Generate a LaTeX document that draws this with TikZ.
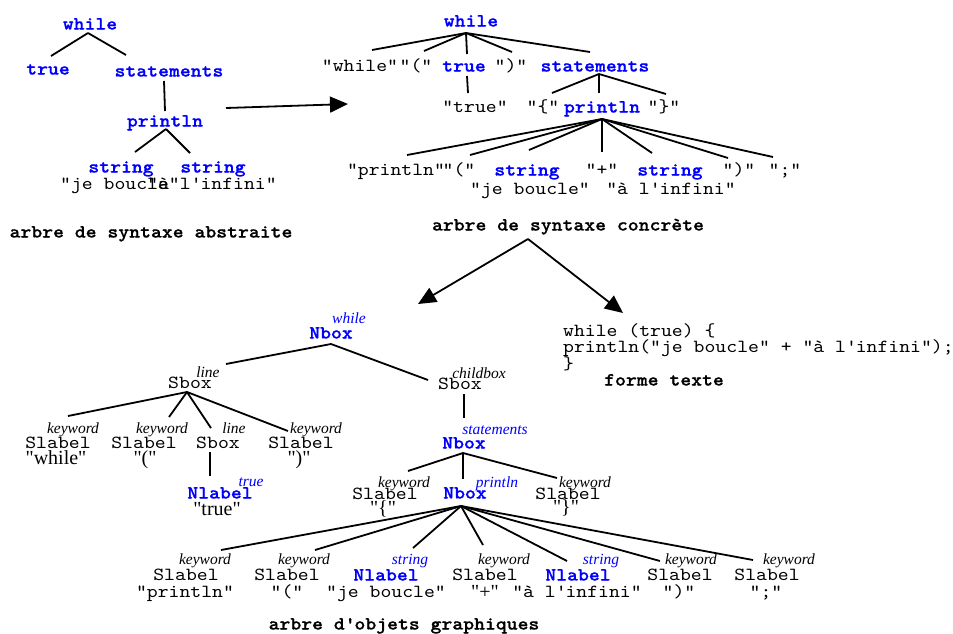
\documentclass[tikz,border=0pt]{standalone}
\usepackage{fontspec}
\usetikzlibrary{calc,arrows.meta}
\newfontfamily\tms{Liberation Serif}
% typewriter face, widened so that its glyphs keep a Courier-like pitch
\newfontfamily\cour[Extension=.otf, BoldFont=lmmonolt10-bold, BoldFeatures={FakeBold=0.8}, FakeStretch=1.12]{lmmono10-regular}
\begin{document}
\begin{tikzpicture}[x=1pt,y=-1pt,
  mono/.style={font=\fontsize{18.5}{18.5}\selectfont\cour, inner sep=0pt, text height=11pt, text depth=0pt},
  kw/.style={mono, font=\fontsize{18.5}{18.5}\selectfont\cour\bfseries, text=blue},
  captext/.style={mono, font=\fontsize{18.5}{18.5}\selectfont\cour\bfseries},
  tag/.style={font=\fontsize{15.5}{16}\selectfont\tms\itshape, inner sep=0pt, text height=10pt, text depth=0pt},
  btag/.style={tag, text=blue},
  ser/.style={font=\fontsize{20}{20}\selectfont\tms, inner sep=0pt, text height=13pt, text depth=0pt},
  edge/.style={line width=1.8pt},
  bigarrow/.style={line width=1.8pt, -{Triangle[length=18pt,width=16pt]}}]
\useasboundingbox[fill=white] (0,0) rectangle (953,633);

% ---------- abstract syntax tree ----------
\node[kw] (a_while) at (90,24) {while};
\node[kw] (a_true) at (48,69) {true};
\node[kw] (a_stmts) at (169,71) {statements};
\node[kw] (a_println) at (165,121) {println};
\node[kw] (a_str1) at (121,167) {string};
\node[kw] (a_str2) at (213,167) {string};
\node[mono] (a_v1) at (120,184) {"je boucle"};
\node[mono] (a_v2) at (212,184) {"à l\textquotesingle infini"};
\node[captext] (a_cap) at (151,232) {arbre de syntaxe abstraite};

\draw[edge] ($(a_while)+(-2,9)$) -- ($(a_true)+(3,-13)$);
\draw[edge] ($(a_while)+(-2,9)$) -- ($(a_stmts)+(-43,-16)$);
\draw[edge] ($(a_stmts)+(-5,10)$) -- ($(a_println)+(0,-10)$);
\draw[edge] ($(a_println)+(1,8)$) -- ($(a_str1)+(14,-15)$);
\draw[edge] ($(a_println)+(1,8)$) -- ($(a_str2)+(-23,-14)$);

\coordinate (ast_out) at (226,108);
\coordinate (cst_in) at (348,104);
\draw[bigarrow] (ast_out) -- (cst_in);

% ---------- concrete syntax tree ----------
\node[kw] (c_while) at (471,21) {while};
\node[mono] (c_kwh) at (360,66) {"while"};
\node[mono] (c_lp) at (416,66) {"("};
\node[kw] (c_true) at (464,66) {true};
\node[mono] (c_rp) at (511,66) {")"};
\node[kw] (c_stmts) at (595,66) {statements};
\node[mono] (c_truelit) at (475,107) {"true"};
\node[mono] (c_lb) at (543,107) {"\{"};
\node[kw] (c_println) at (602,107) {println};
\node[mono] (c_rb) at (664,107) {"\}"};
\node[mono] (c_pl) at (396,170) {"println"};
\node[mono] (c_lp2) at (459,170) {"("};
\node[kw] (c_s1) at (527,170) {string};
\node[mono] (c_plus) at (602,170) {"+"};
\node[kw] (c_s2) at (670,170) {string};
\node[mono] (c_rp2) at (739,170) {")"};
\node[mono] (c_semi) at (785,170) {";"};
\node[mono] (c_v1) at (530,189) {"je boucle"};
\node[mono] (c_v2) at (671,189) {"à l\textquotesingle infini"};
\node[captext] (c_cap) at (568,225) {arbre de syntaxe concrète};

\draw[edge] ($(c_while)+(-5,12)$) -- ($(c_kwh)+(12,-16)$);
\draw[edge] ($(c_while)+(-5,12)$) -- ($(c_lp)+(8,-15)$);
\draw[edge] ($(c_while)+(-5,12)$) -- ($(c_true)+(3,-12)$);
\draw[edge] ($(c_while)+(-5,12)$) -- ($(c_rp)+(1,-14)$);
\draw[edge] ($(c_while)+(-5,12)$) -- ($(c_stmts)+(-5,-14)$);
\draw[edge] ($(c_true)+(3,10)$) -- ($(c_truelit)+(-7,-14)$);
\draw[edge] ($(c_stmts)+(4,8)$) -- ($(c_lb)+(9,-14)$);
\draw[edge] ($(c_stmts)+(4,8)$) -- ($(c_println)+(-3,-14)$);
\draw[edge] ($(c_stmts)+(4,8)$) -- ($(c_rb)+(2,-13)$);
\draw[edge] ($(c_println)+(0,12)$) -- ($(c_pl)+(11,-15)$);
\draw[edge] ($(c_println)+(0,12)$) -- ($(c_lp2)+(11,-15)$);
\draw[edge] ($(c_println)+(0,12)$) -- ($(c_s1)+(2,-20)$);
\draw[edge] ($(c_println)+(0,12)$) -- ($(c_plus)+(0,-18)$);
\draw[edge] ($(c_println)+(0,12)$) -- ($(c_s2)+(-18,-17)$);
\draw[edge] ($(c_println)+(0,12)$) -- ($(c_rp2)+(-11,-12)$);
\draw[edge] ($(c_println)+(0,12)$) -- ($(c_semi)+(-12,-13)$);

% ---------- text form ----------
\node[mono, anchor=west] (code1) at (563,331) {while (true) \{};
\node[mono, anchor=west] (code2) at (563,347) {println("je boucle" + "à l\textquotesingle infini");};
\node[mono, anchor=west] (code3) at (563,364) {\}};
\node[captext] (code_cap) at (664,380) {forme texte};

% ---------- graphical object tree ----------
\node[btag] (g_rtag) at (349,318) {while};
\node[kw] (g_root) at (331,333) {Nbox};
\node[tag] (g_ltag) at (208,372) {line};
\node[mono] (g_sb1) at (190,383) {Sbox};
\node[tag] (g_ctag) at (479,373) {childbox};
\node[mono] (g_sb2) at (460,384) {Sbox};

\node[tag] (g_t1) at (73,428) {keyword};
\node[mono] (g_y1) at (58,443) {Slabel};
\node[ser] (g_v1) at (56,458) {"while"};
\node[tag] (g_t2) at (162,428) {keyword};
\node[mono] (g_y2) at (144,443) {Slabel};
\node[ser] (g_v2) at (145,458) {"("};
\node[tag] (g_t3) at (234,428) {line};
\node[mono] (g_y3) at (218,443) {Sbox};
\node[tag] (g_t4) at (316,428) {keyword};
\node[mono] (g_y4) at (301,443) {Slabel};
\node[ser] (g_v4) at (299,458) {")"};
\node[btag] (g_t5) at (251,481) {true};
\node[kw] (g_y5) at (220,493) {Nlabel};
\node[ser] (g_v5) at (217,509) {"true"};

\node[btag] (g_t6) at (495,429) {statements};
\node[kw] (g_y6) at (464,443) {Nbox};
\node[tag] (g_t7) at (404,482) {keyword};
\node[mono] (g_y7) at (385,494) {Slabel};
\node[ser] (g_v7) at (383,508) {"\{"};
\node[btag] (g_t8) at (497,482) {println};
\node[kw] (g_y8) at (465,493) {Nbox};
\node[tag] (g_t9) at (585,482) {keyword};
\node[mono] (g_y9) at (568,494) {Slabel};
\node[ser] (g_v9) at (566,507) {"\}"};

\node[tag] (g_b1t) at (205,559) {keyword};
\node[mono] (g_b1y) at (186,575) {Slabel};
\node[mono] (g_b1v) at (185,592) {"println"};
\node[tag] (g_b2t) at (304,559) {keyword};
\node[mono] (g_b2y) at (287,575) {Slabel};
\node[mono] (g_b2v) at (287,592) {"("};
\node[btag] (g_b3t) at (410,559) {string};
\node[kw] (g_b3y) at (386,575) {Nlabel};
\node[mono] (g_b3v) at (386,592) {"je boucle"};
\node[tag] (g_b4t) at (504,559) {keyword};
\node[mono] (g_b4y) at (485,575) {Slabel};
\node[ser] (g_b4v) at (485,592) {"+"};
\node[btag] (g_b5t) at (601,559) {string};
\node[kw] (g_b5y) at (578,575) {Nlabel};
\node[mono] (g_b5v) at (577,592) {"à l\textquotesingle infini"};
\node[tag] (g_b6t) at (691,559) {keyword};
\node[mono] (g_b6y) at (680,575) {Slabel};
\node[mono] (g_b6v) at (679,592) {")"};
\node[tag] (g_b7t) at (789,559) {keyword};
\node[mono] (g_b7y) at (767,575) {Slabel};
\node[mono] (g_b7v) at (766,592) {";"};
\node[captext] (g_cap) at (404,624) {arbre d\textquotesingle objets graphiques};

\draw[edge] ($(g_root)+(0,11)$) -- ($(g_ltag)+(18,-8)$);
\draw[edge] ($(g_root)+(0,11)$) -- ($(g_sb2)+(-32,-4)$);
\draw[edge] ($(g_sb1)+(-3,9)$) -- ($(g_t1)+(-5,-12)$);
\draw[edge] ($(g_sb1)+(-3,9)$) -- ($(g_t2)+(7,-11)$);
\draw[edge] ($(g_sb1)+(-3,9)$) -- ($(g_t3)+(-23,0)$);
\draw[edge] ($(g_sb1)+(-3,9)$) -- ($(g_t4)+(-28,3)$);
\draw[edge] ($(g_y3)+(-8,9)$) -- ($(g_y5)+(-10,-17)$);
\draw[edge] ($(g_sb2)+(4,10)$) -- ($(g_y6)+(0,-25)$);
\draw[edge] ($(g_y6)+(-1,10)$) -- ($(g_t7)+(4,-11)$);
\draw[edge] ($(g_y6)+(-1,10)$) -- ($(g_y8)+(-2,-14)$);
\draw[edge] ($(g_y6)+(-1,10)$) -- ($(g_t9)+(-28,-4)$);
\draw[edge] ($(g_y8)+(-4,13)$) -- ($(g_b1t)+(16,-9)$);
\draw[edge] ($(g_y8)+(-4,13)$) -- ($(g_b2t)+(11,-9)$);
\draw[edge] ($(g_y8)+(-4,13)$) -- ($(g_b3t)+(3,-11)$);
\draw[edge] ($(g_y8)+(-4,13)$) -- ($(g_b4t)+(-21,-14)$);
\draw[edge] ($(g_y8)+(-4,13)$) -- ($(g_b5t)+(-34,2)$);
\draw[edge] ($(g_y8)+(-4,13)$) -- ($(g_b6t)+(-31,2)$);
\draw[edge] ($(g_y8)+(-4,13)$) -- ($(g_b7t)+(-36,1)$);

% ---------- derivation arrows ----------
\draw[bigarrow] ($(c_cap)+(-40,14)$) -- ($(g_rtag)+(69,-14)$);
\draw[bigarrow] ($(c_cap)+(-40,14)$) -- ($(code1.west)+(60,-18)$);
\end{tikzpicture}
\end{document}
